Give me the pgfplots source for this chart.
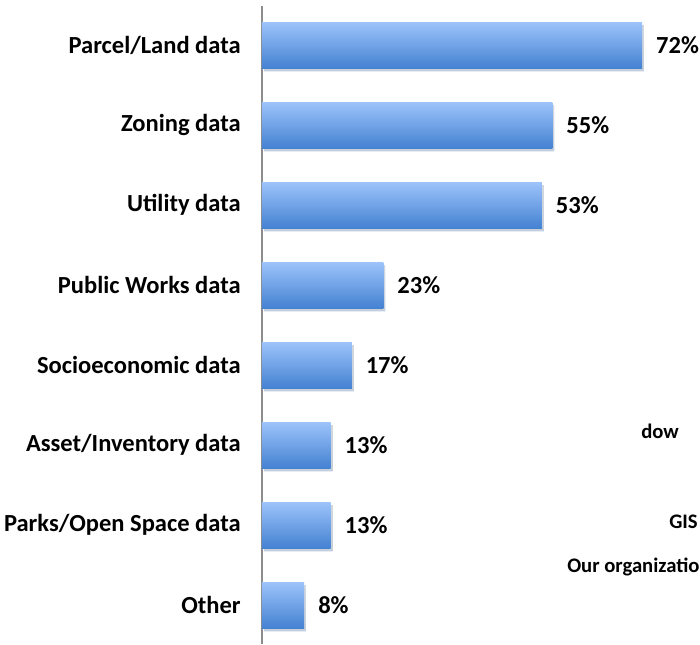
\documentclass[border=0pt]{standalone}
\usepackage{pgfplots}
\pgfplotsset{compat=1.18}
\usepackage{fontspec}
\setmainfont{Carlito}
\definecolor{barTop}{HTML}{9DC3FA}
\definecolor{barMid}{HTML}{88B2EE}
\definecolor{barBot}{HTML}{4482D2}
\definecolor{axGray}{HTML}{8C8C8C}
\pgfplotsset{
  mybar/.style={draw=none, shading=axis, top color=barTop, middle color=barMid, bottom color=barBot,
  preaction={fill=black, opacity=0.14, transform canvas={xshift=1.5pt, yshift=-2.5pt}}},
}
\begin{document}
\begin{tikzpicture}[x=0.75pt,y=0.75pt]
\useasboundingbox (0,0) rectangle (700,644);
\clip (0,0) rectangle (700,644);
\begin{axis}[
  at={(196.5pt,0pt)}, anchor=south west,
  scale only axis,
  width=328.5pt, height=478.5pt,
  xmin=0, xmax=82.95,
  ymin=-0.4875, ymax=7.4875,
  xbar, bar width=34.5pt, bar shift=0pt,
  axis x line=none,
  axis y line*=left,
  y axis line style={draw=axGray, line width=1.5pt, -},
  ytick={0,...,7},
  yticklabels={Other,Parks/Open Space data,Asset/Inventory data,Socioeconomic data,Public Works data,Utility data,Zoning data,Parcel/Land data},
  major tick length=0pt,
  yticklabel style={font=\fontsize{18.4}{21}\selectfont\bfseries, anchor=east, xshift=-12.5pt},
  /pgf/number format/assume math mode=true,
  nodes near coords={\pgfmathprintnumber{\pgfplotspointmeta}\%},
  nodes near coords style={font=\fontsize{18.4}{21}\selectfont\bfseries, anchor=west, xshift=7pt, text=black, /pgf/number format/assume math mode=true},
  point meta=x,
  clip=false,
]
\addplot[mybar] coordinates {(8,0)};
\addplot[mybar] coordinates {(13,1)};
\addplot[mybar] coordinates {(13,2)};
\addplot[mybar] coordinates {(17,3)};
\addplot[mybar] coordinates {(23,4)};
\addplot[mybar] coordinates {(53,5)};
\addplot[mybar] coordinates {(55,6)};
\addplot[mybar] coordinates {(72,7)};
\end{axis}
\begin{scope}[every node/.style={font=\fontsize{15.5}{18}\selectfont\bfseries, anchor=west, inner sep=0pt}]
\node at (641,213) {dow};
\node at (669,122) {GIS};
\node at (567,77) {Our organizatio};
\end{scope}
\end{tikzpicture}
\end{document}
